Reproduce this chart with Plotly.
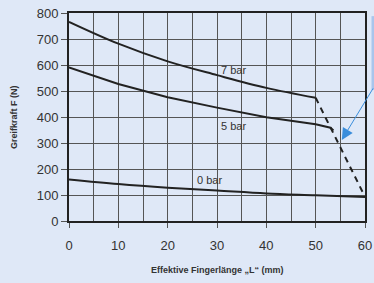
import plotly.graph_objects as go

x_main = [0, 10, 20, 30, 40, 50]
bar7 = [766, 682, 614, 561, 512, 474]
x5 = [0, 10, 20, 30, 40, 50, 53, 53.6]
bar5 = [591, 527, 476, 436, 399, 372, 359, 348]
x0 = [0, 10, 20, 30, 40, 50, 60]
bar0 = [160, 142, 128, 117, 106, 99, 92]
dash_x = [50, 60]
dash_y = [474, 93]
labels = ["7 bar", "5 bar", "0 bar"]
label_x = [33.3, 33.3, 28.4]
label_y = [582, 364, 157]
x_title = "Effektive Fingerlänge „L“ (mm)"
y_title = "Greifkraft F (N)"

font = "Arial, Liberation Sans, sans-serif"
dark = "#222222"
bg = "#dfe8f7"

fig = go.Figure()
fig.add_trace(go.Scatter(x=x_main, y=bar7, mode="lines", line=dict(color=dark, width=2, shape="spline")))
fig.add_trace(go.Scatter(x=x5, y=bar5, mode="lines", line=dict(color=dark, width=2)))
fig.add_trace(go.Scatter(x=x0, y=bar0, mode="lines", line=dict(color=dark, width=2, shape="spline")))
fig.add_trace(go.Scatter(x=dash_x, y=dash_y, mode="lines", line=dict(color=dark, width=2, dash="6px,5px")))

for t, lx, ly in zip(labels, label_x, label_y):
    fig.add_annotation(x=lx, y=ly, text=t, showarrow=False, font=dict(family=font, size=11, color="#333333"))

# axis titles
fig.add_annotation(xref="paper", yref="paper", x=0.5, y=-0.235, yanchor="middle", text="<b>" + x_title + "</b>",
                   showarrow=False, font=dict(family=font, size=9, color="#333333"))
fig.add_annotation(xref="paper", yref="paper", x=-0.186, y=0.5, xanchor="center", textangle=-90,
                   text="<b>" + y_title + "</b>", showarrow=False, font=dict(family=font, size=9, color="#333333"))

# callout arrow
fig.add_annotation(x=55.3, y=312, ax=33, ay=-53, text="", showarrow=True,
                   arrowhead=2, arrowsize=2.3, arrowwidth=1, arrowcolor="#3a8ddb")
fig.add_shape(type="rect", xref="paper", yref="paper", x0=1.022, x1=1.04, y0=0.63, y1=0.985,
              fillcolor="#a9c5ec", line=dict(width=0), layer="below")

fig.update_layout(
    width=374, height=283,
    margin=dict(l=69, r=9, t=13, b=62),
    paper_bgcolor=bg, plot_bgcolor=bg,
    showlegend=False,
    font=dict(family=font, color="#333333"),
)
fig.update_xaxes(range=[0, 60], dtick=10, showgrid=True, gridcolor="#555555", gridwidth=1,
                 minor=dict(dtick=5, showgrid=True, gridcolor="#555555", gridwidth=1),
                 showline=True, linecolor=dark, linewidth=2, mirror=True, automargin=False,
                 ticks="outside", ticklen=5, tickcolor="#555555", zeroline=False,
                 ticklabelstandoff=6,
                 tickfont=dict(size=13, color="#333333"))
fig.update_yaxes(range=[0, 800], dtick=100, showgrid=True, gridcolor="#555555", gridwidth=1,
                 showline=True, linecolor=dark, linewidth=2, mirror=True, automargin=False,
                 ticks="outside", ticklen=6, tickcolor="#555555", zeroline=False,
                 tickfont=dict(size=13, color="#333333"))

fig.write_html("out.html", config={"displayModeBar": False},
               post_script="document.body.style.margin='0';document.body.style.background='" + bg + "';")
